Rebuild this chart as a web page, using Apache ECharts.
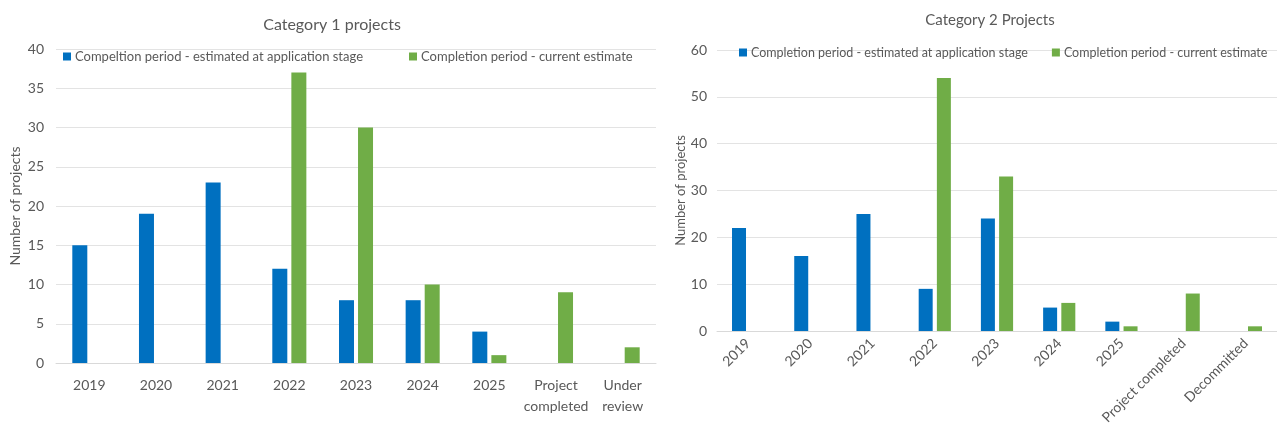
<!DOCTYPE html>
<html>
<head>
<meta charset="utf-8">
<script src="https://cdn.jsdelivr.net/npm/echarts@6/dist/echarts.min.js"></script>
<style>
  html, body { margin: 0; padding: 0; background: #fff; }
  #chart { width: 1277px; height: 431px; }
</style>
</head>
<body>
<div id="chart"></div>
<script>
// Category 1 projects
const cat1Labels = ['2019', '2020', '2021', '2022', '2023', '2024', '2025', 'Project\ncompleted', 'Under\nreview'];
const cat1Original = [15, 19, 23, 12, 8, 8, 4, null, null];
const cat1Current = [null, null, null, 37, 30, 10, 1, 9, 2];
const cat1YTicks = { min: 0, max: 40, interval: 5 };

// Category 2 projects
const cat2Labels = ['2019', '2020', '2021', '2022', '2023', '2024', '2025', 'Project completed', 'Decommitted'];
const cat2Original = [22, 16, 25, 9, 24, 5, 2, null, null];
const cat2Current = [null, null, null, 54, 33, 6, 1, 8, 1];
const cat2YTicks = { min: 0, max: 60, interval: 10 };

const seriesNames1 = ['Compeltion period - estimated at application stage', 'Completion period - current estimate'];
const seriesNames2 = ['Completion period - estimated at application stage', 'Completion period - current estimate'];

const BLUE = '#0070C0';
const GREEN = '#70AD47';
const TEXT = '#595959';
const GRID = '#E3E3E3';
const FONT = 'Lato, "Open Sans", sans-serif';

const chart = echarts.init(document.getElementById('chart'), null, { renderer: 'canvas' });

function yAxis(gridIndex, ticks, nameSize, nameGap, labelMargin) {
  return {
    type: 'value', gridIndex,
    min: ticks.min, max: ticks.max, interval: ticks.interval,
    name: 'Number of projects', nameLocation: 'middle', nameGap,
    nameTextStyle: { color: TEXT, fontSize: nameSize, fontFamily: FONT },
    axisLine: { show: false }, axisTick: { show: false },
    axisLabel: { color: TEXT, fontSize: 14, fontFamily: FONT, margin: labelMargin },
    splitLine: { lineStyle: { color: GRID, width: 1 } }
  };
}

chart.setOption({
  animation: false,
  textStyle: { fontFamily: FONT },
  title: [
    { text: 'Category 1 projects', left: 327, top: 12, textAlign: 'center',
      textStyle: { color: TEXT, fontSize: 16, fontWeight: 'normal', fontFamily: FONT } },
    { text: 'Category 2 Projects', left: 985, top: 8, textAlign: 'center',
      textStyle: { color: TEXT, fontSize: 15, fontWeight: 'normal', fontFamily: FONT } }
  ],
  legend: [
    { data: seriesNames1, left: 58, top: 45, width: 620, icon: 'rect', itemWidth: 8, itemHeight: 8, itemGap: 46,
      textStyle: { color: TEXT, fontSize: 13, fontFamily: FONT, padding: [0, 0, 0, -1] } },
    { data: seriesNames2, left: 734, top: 41, width: 600, icon: 'rect', itemWidth: 8, itemHeight: 8, itemGap: 24,
      textStyle: { color: TEXT, fontSize: 12.5, fontFamily: FONT, padding: [0, 0, 0, -1] } }
  ],
  grid: [
    { left: 56, top: 49, width: 600, height: 314 },
    { left: 717, top: 50, width: 570, height: 281 }
  ],
  xAxis: [
    { type: 'category', gridIndex: 0, data: cat1Labels,
      axisLine: { lineStyle: { color: '#D9D9D9' } }, axisTick: { show: false },
      axisLabel: { color: TEXT, fontSize: 14, fontFamily: FONT, margin: 12, lineHeight: 21, interval: 0 } },
    { type: 'category', gridIndex: 1, data: cat2Labels,
      axisLine: { lineStyle: { color: '#D9D9D9' } }, axisTick: { show: false },
      axisLabel: { color: TEXT, fontSize: 14, fontFamily: FONT, margin: 10, rotate: 45, interval: 0 } }
  ],
  yAxis: [
    yAxis(0, cat1YTicks, 14, 34, 12),
    yAxis(1, cat2YTicks, 13, 29, 10)
  ],
  series: [
    { name: seriesNames1[0], type: 'bar', xAxisIndex: 0, yAxisIndex: 0, data: cat1Original,
      barWidth: 15, barGap: '27%', itemStyle: { color: BLUE } },
    { name: seriesNames1[1], type: 'bar', xAxisIndex: 0, yAxisIndex: 0, data: cat1Current,
      barWidth: 15, barGap: '27%', itemStyle: { color: GREEN } },
    { name: seriesNames2[0], type: 'bar', xAxisIndex: 1, yAxisIndex: 1, data: cat2Original,
      barWidth: 14, barGap: '30%', itemStyle: { color: BLUE } },
    { name: seriesNames2[1], type: 'bar', xAxisIndex: 1, yAxisIndex: 1, data: cat2Current,
      barWidth: 14, barGap: '30%', itemStyle: { color: GREEN } }
  ]
});
</script>
</body>
</html>
